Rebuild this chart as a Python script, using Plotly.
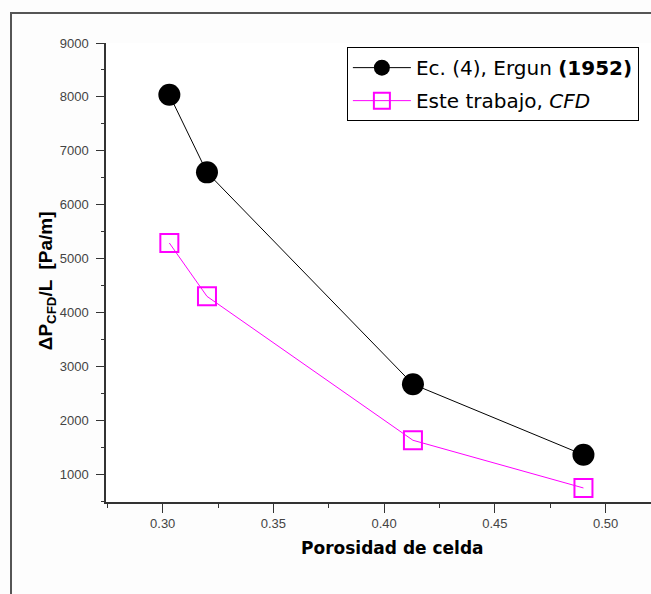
import plotly.graph_objects as go

porosity = [0.303, 0.320, 0.413, 0.490]
ergun = [8040, 6600, 2670, 1360]
cfd = [5290, 4300, 1630, 745]
y_ticks = [1000, 2000, 3000, 4000, 5000, 6000, 7000, 8000, 9000]
x_ticks = [0.30, 0.35, 0.40, 0.45, 0.50]
x_ticklabels = ["0.30", "0.35", "0.40", "0.45", "0.50"]

fig = go.Figure()
fig.add_trace(go.Scatter(
    x=porosity, y=ergun, mode="lines+markers",
    name="Ec. (4), Ergun <b>(1952)</b>", legendgroup="a",
    line=dict(color="black", width=1),
    marker=dict(symbol="circle", size=22, color="black"),
))
fig.add_trace(go.Scatter(
    x=porosity, y=cfd, mode="lines+markers",
    name="Este trabajo, <i>CFD</i>", legendgroup="b",
    line=dict(color="#ff00ff", width=1),
    marker=dict(symbol="square-open", size=18, color="#ff00ff", line=dict(width=2, color="#ff00ff")),
))

fig.update_layout(
    width=651, height=594,
    margin=dict(l=106, r=0, t=43, b=92),
    paper_bgcolor="#fdfdfd", plot_bgcolor="white",
    showlegend=True,
    legend=dict(x=0.442, y=0.991, xanchor="left", yanchor="top",
                bordercolor="black", borderwidth=1, bgcolor="white",
                font=dict(family="DejaVu Sans", size=20, color="black"),
                tracegroupgap=4, itemwidth=58),
    font=dict(family="Arial", color="#333"),
)
fig.update_xaxes(
    range=[0.2744, 0.5205], tickvals=x_ticks, ticktext=x_ticklabels,
    showgrid=False, zeroline=False, showline=True, linecolor="#333", linewidth=1.5,
    ticks="outside", ticklen=9, tickcolor="#333", tickwidth=1.2,
    tickfont=dict(family="Arial", size=13, color="#444"),
    minor=dict(ticks="outside", ticklen=4, dtick=0.025, tick0=0.3, tickcolor="#333", showgrid=False),
)
fig.update_yaxes(
    range=[485, 9000], tickvals=y_ticks,
    showgrid=False, zeroline=False, showline=True, linecolor="#333", linewidth=1.5,
    ticks="outside", ticklen=8, tickcolor="#333", tickwidth=1.2,
    tickfont=dict(family="Arial", size=13, color="#444"),
    ticklabelstandoff=5,
    minor=dict(ticks="outside", ticklen=3, dtick=500, tick0=0, tickcolor="#333", showgrid=False),
)
fig.add_annotation(
    text="<b>ΔP<sub>CFD</sub>/L  [Pa/m]</b>", xref="paper", yref="paper",
    x=-0.134, y=0.483, textangle=-90, showarrow=False,
    font=dict(family="Arial", size=19, color="black"),
)
fig.add_annotation(
    text="<b>Porosidad de celda</b>", xref="paper", yref="paper",
    x=0.525, y=-0.127, showarrow=False,
    font=dict(family="DejaVu Sans", size=17, color="black"),
)
fig.add_shape(type="rect", xref="paper", yref="paper",
              x0=-0.1743, y0=-0.3, x1=1.2, y1=1.0654,
              line=dict(color="#555", width=2), layer="below")
fig.write_html("out.html", config={"displayModeBar": False},
               post_script="document.body.style.margin='0';document.body.style.padding='0';")
